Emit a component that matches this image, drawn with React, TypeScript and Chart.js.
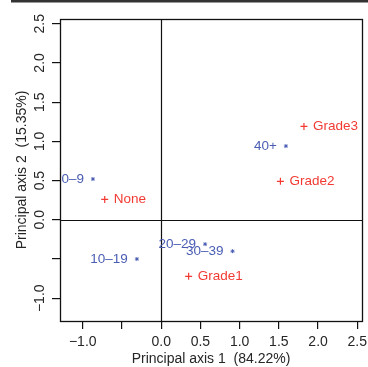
import React, { useEffect, useRef } from "react";
import { Chart, registerables } from "chart.js";

Chart.register(...registerables);

// ---- data ----
const rowLabels = ["0–9", "10–19", "20–29", "30–39", "40+"];
const rowX = [-0.87, -0.31, 0.56, 0.91, 1.59];
const rowY = [0.52, -0.5, -0.31, -0.4, 0.94];

const colLabels = ["None", "Grade1", "Grade2", "Grade3"];
const colX = [-0.72, 0.35, 1.52, 1.82];
const colY = [0.26, -0.72, 0.49, 1.19];

const xTicks = [-1.0, -0.5, 0.0, 0.5, 1.0, 1.5, 2.0, 2.5];
const xTickLabels = ["−1.0", "", "0.0", "0.5", "1.0", "1.5", "2.0", "2.5"];
const yTicks = [-1.0, -0.5, 0.0, 0.5, 1.0, 1.5, 2.0, 2.5];
const yTickLabels = ["−1.0", "", "0.0", "0.5", "1.0", "1.5", "2.0", "2.5"];

const xTitle = "Principal axis 1  (84.22%)";
const yTitle = "Principal axis 2  (15.35%)";

const BLUE = "#4a5db3";
const RED = "#f23a33";
const FONT = "14px 'Liberation Sans', Arial, sans-serif";

const decorPlugin = {
  id: "decor",
  afterDraw(chart: any) {
    const ctx = chart.ctx;
    const { left, right, top, bottom } = chart.chartArea;
    const xs = chart.scales.x;
    const ys = chart.scales.y;
    ctx.save();
    // top band
    ctx.fillStyle = "#333";
    ctx.fillRect(11, 0, chart.width - 11, 2.5);
    // zero lines
    ctx.strokeStyle = "#111";
    ctx.lineWidth = 1.2;
    const x0 = Math.round(xs.getPixelForValue(0)) + 0.5;
    const y0 = Math.round(ys.getPixelForValue(0)) + 0.5;
    ctx.beginPath();
    ctx.moveTo(x0, top);
    ctx.lineTo(x0, bottom);
    ctx.moveTo(left, y0);
    ctx.lineTo(right, y0);
    ctx.stroke();
    // box
    ctx.lineWidth = 1.3;
    ctx.strokeStyle = "#111";
    ctx.strokeRect(Math.round(left) + 0.5, Math.round(top) + 0.5, Math.round(right - left), Math.round(bottom - top));
    // tick labels
    ctx.fillStyle = "#262626";
    ctx.font = FONT;
    ctx.textAlign = "center";
    ctx.textBaseline = "middle";
    xs.ticks.forEach((t: any) => {
      const lbl = xTickLabels[xTicks.indexOf(t.value)] ?? "";
      if (lbl) ctx.fillText(lbl, xs.getPixelForValue(t.value), bottom + 21);
    });
    ys.ticks.forEach((t: any) => {
      const lbl = yTickLabels[yTicks.indexOf(t.value)] ?? "";
      if (!lbl) return;
      ctx.save();
      ctx.translate(left - 20, ys.getPixelForValue(t.value));
      ctx.rotate(-Math.PI / 2);
      ctx.fillText(lbl, 0, 0);
      ctx.restore();
    });
    // titles
    ctx.fillText(xTitle, (left + right) / 2, bottom + 38);
    ctx.save();
    ctx.translate(left - 38, (top + bottom) / 2);
    ctx.rotate(-Math.PI / 2);
    ctx.fillText(yTitle, 0, 0);
    ctx.restore();
    // point labels
    ctx.font = "13.5px 'Liberation Sans', Arial, sans-serif";
    ctx.save();
    ctx.beginPath();
    ctx.rect(left, top, right - left, bottom - top);
    ctx.clip();
    ctx.fillStyle = BLUE;
    ctx.textAlign = "right";
    rowLabels.forEach((l, i) => {
      ctx.fillText(l, xs.getPixelForValue(rowX[i]) - 9, ys.getPixelForValue(rowY[i]));
    });
    ctx.fillStyle = RED;
    ctx.textAlign = "left";
    colLabels.forEach((l, i) => {
      ctx.fillText(l, xs.getPixelForValue(colX[i]) + 9, ys.getPixelForValue(colY[i]));
    });
    ctx.restore();
    ctx.restore();
  },
};

export default function App() {
  const ref = useRef<HTMLCanvasElement>(null);
  useEffect(() => {
    document.body.style.margin = "0";
    const chart = new Chart(ref.current!, {
      type: "scatter",
      data: {
        datasets: [
          {
            label: "rows",
            data: rowX.map((x, i) => ({ x, y: rowY[i] })),
            pointStyle: "star",
            radius: 2,
            borderColor: BLUE,
            borderWidth: 1,
            backgroundColor: BLUE,
          },
          {
            label: "cols",
            data: colX.map((x, i) => ({ x, y: colY[i] })),
            pointStyle: "cross",
            radius: 3.5,
            borderColor: RED,
            borderWidth: 1.2,
            backgroundColor: RED,
          },
        ],
      },
      options: {
        responsive: false,
        animation: false,
        layout: { padding: { top: 19, right: 6, left: 0, bottom: 0 } },
        plugins: { legend: { display: false }, tooltip: { enabled: false } },
        scales: {
          x: {
            type: "linear",
            min: -1.29,
            max: 2.56,
            afterBuildTicks: (s: any) => {
              s.ticks = xTicks.map((v) => ({ value: v }));
            },
            afterFit: (s: any) => {
              s.height = 46;
            },
            ticks: { display: false },
            grid: { drawOnChartArea: false, drawTicks: true, tickLength: 8, color: "#111", lineWidth: 1.2 },
            border: { display: false },
          },
          y: {
            type: "linear",
            min: -1.29,
            max: 2.56,
            afterBuildTicks: (s: any) => {
              s.ticks = yTicks.map((v) => ({ value: v }));
            },
            afterFit: (s: any) => {
              s.width = 60;
            },
            ticks: { display: false },
            grid: { drawOnChartArea: false, drawTicks: true, tickLength: 8, color: "#111", lineWidth: 1.2 },
            border: { display: false },
          },
        },
      } as any,
      plugins: [decorPlugin],
    });
    return () => chart.destroy();
  }, []);
  return (
    <div style={{ position: "absolute", left: 0, top: 0, width: 368, height: 367, background: "#fff" }}>
      <canvas ref={ref} width={368} height={367} />
    </div>
  );
}
